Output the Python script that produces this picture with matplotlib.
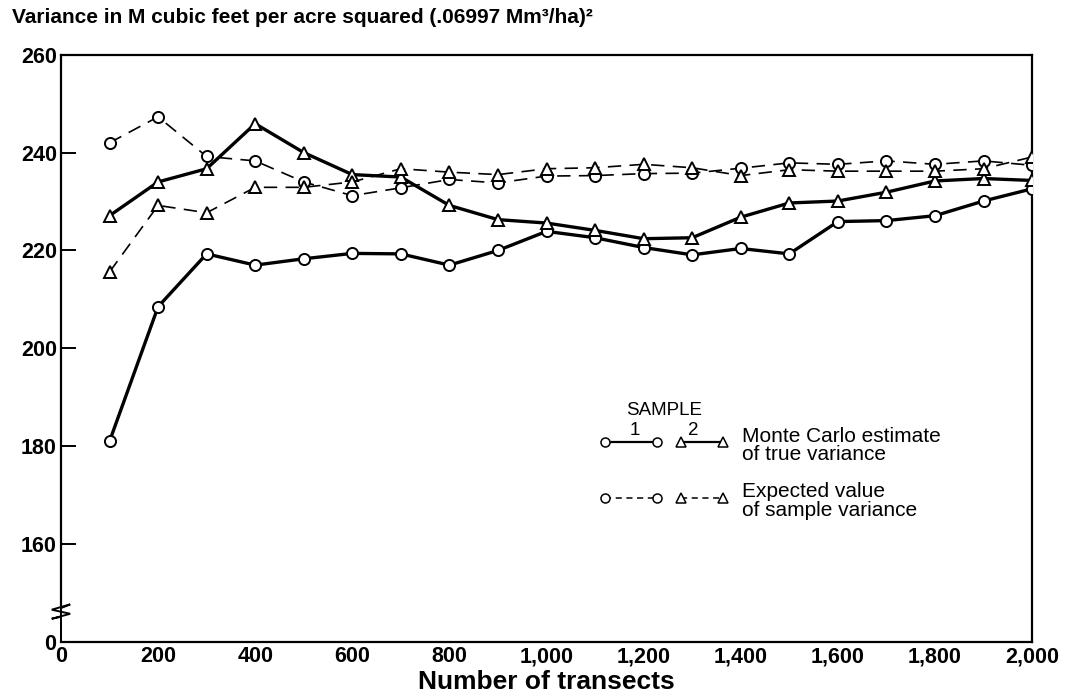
import matplotlib
matplotlib.use("Agg")
import matplotlib.pyplot as plt
from matplotlib.lines import Line2D

# Number of transects sampled
transects = [100, 200, 300, 400, 500, 600, 700, 800, 900, 1000,
             1100, 1200, 1300, 1400, 1500, 1600, 1700, 1800, 1900, 2000]

# Monte Carlo estimate of true variance
mc_sample1 = [181.0, 208.5, 219.3, 217.0, 218.3, 219.4, 219.3, 217.0, 220.0, 223.9,
              222.6, 220.6, 219.1, 220.4, 219.3, 225.9, 226.1, 227.1, 230.1, 232.6]
mc_sample2 = [227.1, 234.0, 236.7, 245.9, 240.0, 235.5, 235.0, 229.2, 226.3, 225.6,
              224.1, 222.4, 222.6, 226.8, 229.7, 230.1, 231.9, 234.2, 234.7, 234.3]

# Expected value of sample variance
ev_sample1 = [242.0, 247.3, 239.2, 238.3, 234.0, 231.2, 232.8, 234.5, 233.8, 235.2,
              235.3, 235.7, 235.8, 236.8, 237.9, 237.6, 238.3, 237.6, 238.3, 237.4]
ev_sample2 = [215.6, 229.2, 227.7, 232.9, 232.9, 234.0, 236.7, 236.0, 235.5, 236.7,
              236.9, 237.6, 236.9, 235.3, 236.5, 236.2, 236.2, 236.2, 236.7, 239.1]

y_ticks = [140, 160, 180, 200, 220, 240, 260]
y_tick_labels = ["", "160", "180", "200", "220", "240", "260"]
x_ticks = [0, 200, 400, 600, 800, 1000, 1200, 1400, 1600, 1800, 2000]
x_tick_labels = ["0", "200", "400", "600", "800", "1,000", "1,200", "1,400",
                 "1,600", "1,800", "2,000"]

plt.rcParams["font.family"] = ["Liberation Sans", "DejaVu Sans"]

fig = plt.figure(figsize=(10.79, 6.95), dpi=100)
ax = fig.add_axes([0.0565, 0.0763, 0.900, 0.845])

solid_kw = dict(color="black", lw=2.4, ls="-", mfc="white", mec="black", mew=1.4, zorder=3)
dash_kw = dict(color="black", lw=1.2, ls=(0, (8, 5)), mfc="white", mec="black", mew=1.4, zorder=3)

ax.plot(transects, mc_sample1, marker="o", ms=8, **solid_kw)
ax.plot(transects, mc_sample2, marker="^", ms=9, **solid_kw)
ax.plot(transects, ev_sample1, marker="o", ms=8, **dash_kw)
ax.plot(transects, ev_sample2, marker="^", ms=9, **dash_kw)

ax.set_xlim(0, 2000)
ax.set_ylim(140, 260)

ax.set_xticks(x_ticks)
ax.set_xticklabels(x_tick_labels, fontsize=15.5, fontweight="bold")
ax.set_yticks(y_ticks)
ax.set_yticklabels(y_tick_labels, fontsize=15.5, fontweight="bold")
ax.tick_params(axis="x", length=0, pad=3)
ax.tick_params(axis="y", direction="in", length=11, width=1.4, pad=3)
for t in (ax.yaxis.get_major_ticks()[0], ax.yaxis.get_major_ticks()[-1]):
    t.tick1line.set_visible(False)

# Zero of the broken vertical axis, set just left of the x-axis zero
ax.annotate("0", xy=(0, 0), xycoords="axes fraction", xytext=(-5, -3),
            textcoords="offset pixels", ha="right", va="center",
            fontsize=15.5, fontweight="bold")

for s in ax.spines.values():
    s.set_linewidth(1.6)

# Break mark on the vertical axis
ax.spines["left"].set_bounds(147.5, 260)
brk_x = [0.0, 0.0, 0.0095, -0.0095, 0.0095, -0.0095, 0.0, 0.0]
brk_y = [0.0, 0.0577, 0.0640, 0.0550, 0.0480, 0.0395, 0.0430, 0.0]
ax.plot(brk_x, brk_y, transform=ax.transAxes, color="black", lw=1.4,
        clip_on=False, zorder=4, solid_joinstyle="miter")

ax.set_xlabel("Number of transects", fontsize=19, fontweight="bold", labelpad=2)
fig.text(0.011, 0.988, "Variance in M cubic feet per acre squared (.06997 Mm\u00b3/ha)\u00b2",
         fontsize=15, fontweight="bold", ha="left", va="top")

# Custom key
tr = ax.transAxes
ax.text(0.621, 0.394, "SAMPLE", transform=tr, ha="center", va="center", fontsize=13.5)
ax.text(0.591, 0.360, "1", transform=tr, ha="center", va="center", fontsize=13.5)
ax.text(0.651, 0.360, "2", transform=tr, ha="center", va="center", fontsize=13.5)

key_rows = [(0.341, "-", 1.6), (0.245, (0, (4, 3)), 1.1)]
for yk, style, lw in key_rows:
    for (xa, xb), mk in (((0.560, 0.614), "o"), ((0.639, 0.682), "^")):
        ax.add_line(Line2D([xa, xb], [yk, yk], transform=tr, color="black", lw=lw, ls=style,
                           marker=mk, ms=6.5 if mk == "o" else 7.5, mfc="white", mec="black",
                           mew=1.1, clip_on=False))

ax.text(0.701, 0.334, "Monte Carlo estimate\nof true variance", transform=tr,
        ha="left", va="center", fontsize=15, linespacing=0.95)
ax.text(0.701, 0.240, "Expected value\nof sample variance", transform=tr,
        ha="left", va="center", fontsize=15, linespacing=0.95)

fig.savefig("out.png", dpi=100)
